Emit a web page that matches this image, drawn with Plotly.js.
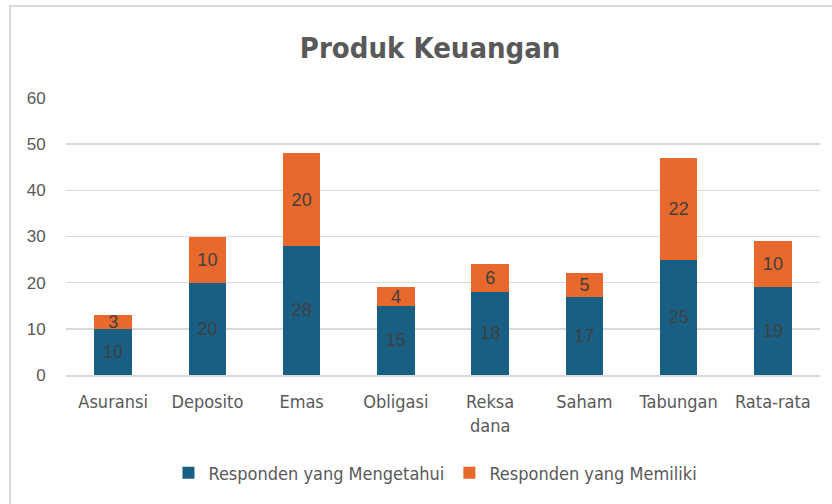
<!DOCTYPE html>
<html>
<head>
<meta charset="utf-8">
<script src="https://cdn.plot.ly/plotly-3.0.1.min.js"></script>
<style>
html,body{margin:0;padding:0;background:#fff;}
#wrap{position:relative;width:832px;height:504px;overflow:hidden;}
#frame{position:absolute;left:9px;top:5px;width:840px;height:520px;border:2px solid #d9d9d9;box-sizing:border-box;}
#chart{position:absolute;left:0;top:0;width:832px;height:504px;}
</style>
</head>
<body>
<div id="wrap"><div id="frame"></div><div id="chart"></div></div>
<script>
const categories = ["Asuransi","Deposito","Emas","Obligasi","Reksa<br>dana","Saham","Tabungan","Rata-rata"];
const mengetahui = [10,20,28,15,18,17,25,19];
const memiliki = [3,10,20,4,6,5,22,10];
const yTicks = [0,10,20,30,40,50,60];

const narrow = '"DejaVu Sans Condensed", "Liberation Sans Narrow", Arial, sans-serif';
const labelFont = {family:'"Liberation Sans", Arial, sans-serif', size:18, color:'#404040'};

const traces = [
  {type:'bar', name:'Responden yang Mengetahui', x:categories, y:mengetahui,
   marker:{color:'#195f84'}, text:mengetahui.map(String), textposition:'inside',
   insidetextanchor:'middle', textangle:0, constraintext:'none', textfont:labelFont, hoverinfo:'x+y'},
  {type:'bar', name:'Responden yang Memiliki', x:categories, y:memiliki,
   marker:{color:'#e8692b'}, text:memiliki.map(String), textposition:'inside',
   insidetextanchor:'middle', textangle:0, constraintext:'none', textfont:labelFont, hoverinfo:'x+y'}
];

const layout = {
  width:832, height:504,
  paper_bgcolor:'rgba(0,0,0,0)', plot_bgcolor:'rgba(0,0,0,0)',
  margin:{l:66, r:12, t:98, b:129},
  barmode:'stack', bargap:0.6,
  uniformtext:{mode:false},
  title:{text:'<b>Produk Keuangan</b>', x:0.517, xanchor:'center', y:0.905, yanchor:'middle',
         font:{family:narrow, size:29, color:'#595959'}},
  xaxis:{type:'category', showgrid:false, showline:true, linecolor:'#d9d9d9', linewidth:1.5,
         ticks:'outside', ticklen:10, tickcolor:'rgba(0,0,0,0)',
         tickfont:{family:narrow, size:18, color:'#595959'}, fixedrange:true},
  yaxis:{range:[0,60], tickvals:yTicks, showgrid:true, gridcolor:'#d9d9d9', gridwidth:1.5,
         zeroline:false, showline:false, ticks:'outside', ticklen:16, tickcolor:'rgba(0,0,0,0)',
         tickfont:{family:'"Liberation Sans", Arial, sans-serif', size:17, color:'#595959'}, fixedrange:true},
  showlegend:true,
  legend:{orientation:'h', x:0.49, xanchor:'center', y:-0.354, yanchor:'middle',
          font:{family:narrow, size:18, color:'#595959'}, traceorder:'normal', itemwidth:20},
  font:{family:narrow}
};

Plotly.newPlot('chart', traces, layout, {displayModeBar:false, staticPlot:true});
</script>
</body>
</html>
